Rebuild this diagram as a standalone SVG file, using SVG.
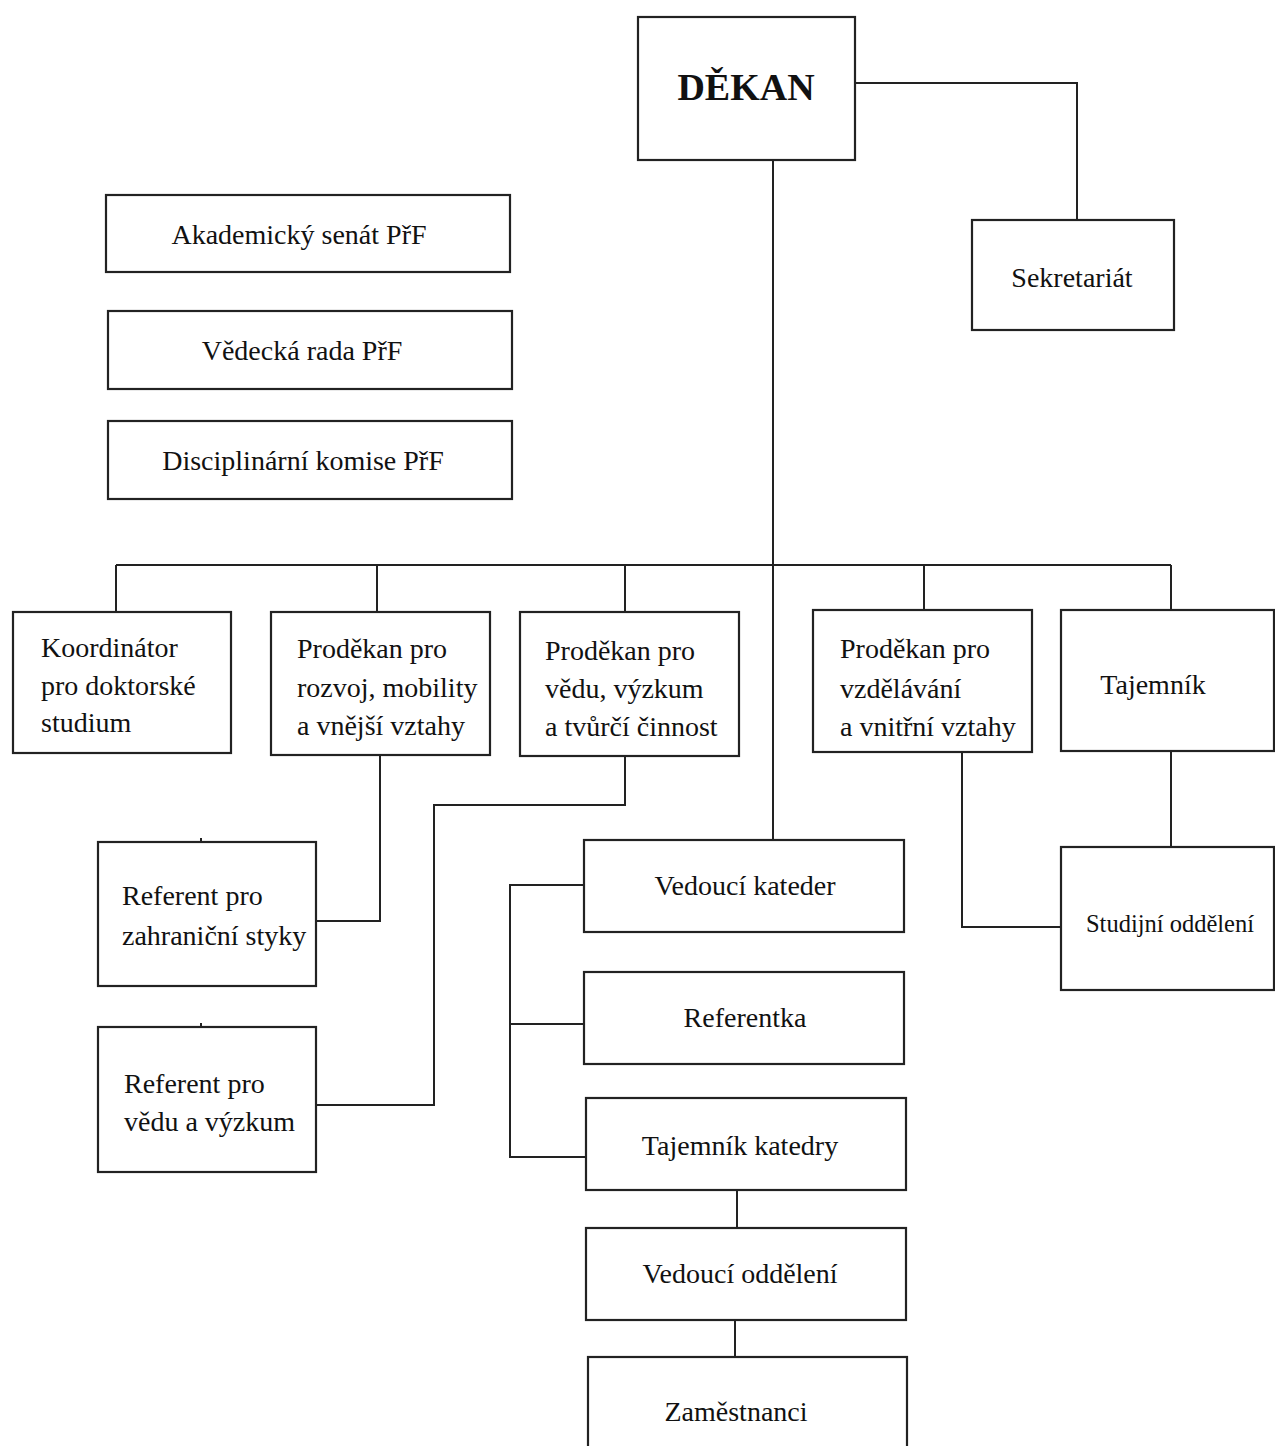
<svg xmlns="http://www.w3.org/2000/svg" width="1275" height="1446" viewBox="0 0 1275 1446">
<style>
.box{fill:#fff;stroke:#222;stroke-width:2.2}
.t{font-family:"Liberation Serif","Times New Roman",serif;font-size:28px;fill:#111}
.c{text-anchor:middle}
.b{font-weight:bold;font-size:38px}
.ln{fill:none;stroke:#222;stroke-width:2}
</style>
<rect width="1275" height="1446" fill="#fff"/>
<g id="connectors">
<path class="ln" d="M855 83 H1077 V220"/>
<path class="ln" d="M773 160 V840"/>
<path class="ln" d="M116 565 H1171"/>
<path class="ln" d="M116 565 V612 M377 565 V612 M625 565 V612 M924 565 V610 M1171 565 V610"/>
<path class="ln" d="M380 755 V921 H316"/>
<path class="ln" d="M625 756 V805 H434 V1105 H316"/>
<path class="ln" d="M584 885 H510 V1157 H586 M510 1024 H584"/>
<path class="ln" d="M737 1190 V1228"/>
<path class="ln" d="M735 1320 V1357"/>
<path class="ln" d="M962 752 V927 H1061"/>
<path class="ln" d="M1171 751 V847"/>
<path class="ln" d="M201 838 V842 M201 1023 V1027"/>
</g>
<g id="dekan"><rect class="box" x="638" y="17" width="217" height="143"/><text class="t c b" x="746" y="100">DĚKAN</text></g>
<g id="sekretariat"><rect class="box" x="972" y="220" width="202" height="110"/><text class="t c" x="1072" y="287">Sekretariát</text></g>
<g id="senat"><rect class="box" x="106" y="195" width="404" height="77"/><text class="t c" x="299" y="244">Akademický senát PřF</text></g>
<g id="rada"><rect class="box" x="108" y="311" width="404" height="78"/><text class="t c" x="302" y="360">Vědecká rada PřF</text></g>
<g id="komise"><rect class="box" x="108" y="421" width="404" height="78"/><text class="t c" x="303" y="470">Disciplinární komise PřF</text></g>
<g id="koordinator"><rect class="box" x="13" y="612" width="218" height="141"/><text class="t" x="41" y="657">Koordinátor</text><text class="t" x="41" y="695">pro doktorské</text><text class="t" x="41" y="732">studium</text></g>
<g id="prodekan-rozvoj"><rect class="box" x="271" y="612" width="219" height="143"/><text class="t" x="297" y="658">Proděkan pro</text><text class="t" x="297" y="697">rozvoj, mobility</text><text class="t" x="297" y="735">a vnější vztahy</text></g>
<g id="prodekan-veda"><rect class="box" x="520" y="612" width="219" height="144"/><text class="t" x="545" y="660">Proděkan pro</text><text class="t" x="545" y="698">vědu, výzkum</text><text class="t" x="545" y="736">a tvůrčí činnost</text></g>
<g id="prodekan-vzdelavani"><rect class="box" x="813" y="610" width="219" height="142"/><text class="t" x="840" y="658">Proděkan pro</text><text class="t" x="840" y="698">vzdělávání</text><text class="t" x="840" y="736">a vnitřní vztahy</text></g>
<g id="tajemnik"><rect class="box" x="1061" y="610" width="213" height="141"/><text class="t c" x="1153" y="694">Tajemník</text></g>
<g id="referent-zahranicni"><rect class="box" x="98" y="842" width="218" height="144"/><text class="t" x="122" y="905">Referent pro</text><text class="t" x="122" y="945">zahraniční styky</text></g>
<g id="referent-veda"><rect class="box" x="98" y="1027" width="218" height="145"/><text class="t" x="124" y="1093">Referent pro</text><text class="t" x="124" y="1131">vědu a výzkum</text></g>
<g id="vedouci-kateder"><rect class="box" x="584" y="840" width="320" height="92"/><text class="t c" x="745" y="895">Vedoucí kateder</text></g>
<g id="referentka"><rect class="box" x="584" y="972" width="320" height="92"/><text class="t c" x="745" y="1027">Referentka</text></g>
<g id="tajemnik-katedry"><rect class="box" x="586" y="1098" width="320" height="92"/><text class="t c" x="740" y="1155">Tajemník katedry</text></g>
<g id="vedouci-oddeleni"><rect class="box" x="586" y="1228" width="320" height="92"/><text class="t c" x="740" y="1283">Vedoucí oddělení</text></g>
<g id="zamestnanci"><rect class="box" x="588" y="1357" width="319" height="100"/><text class="t c" x="736" y="1421">Zaměstnanci</text></g>
<g id="studijni"><rect class="box" x="1061" y="847" width="213" height="143"/><text class="t c" x="1170" y="932" style="font-size:24.5px">Studijní oddělení</text></g>
</svg>
